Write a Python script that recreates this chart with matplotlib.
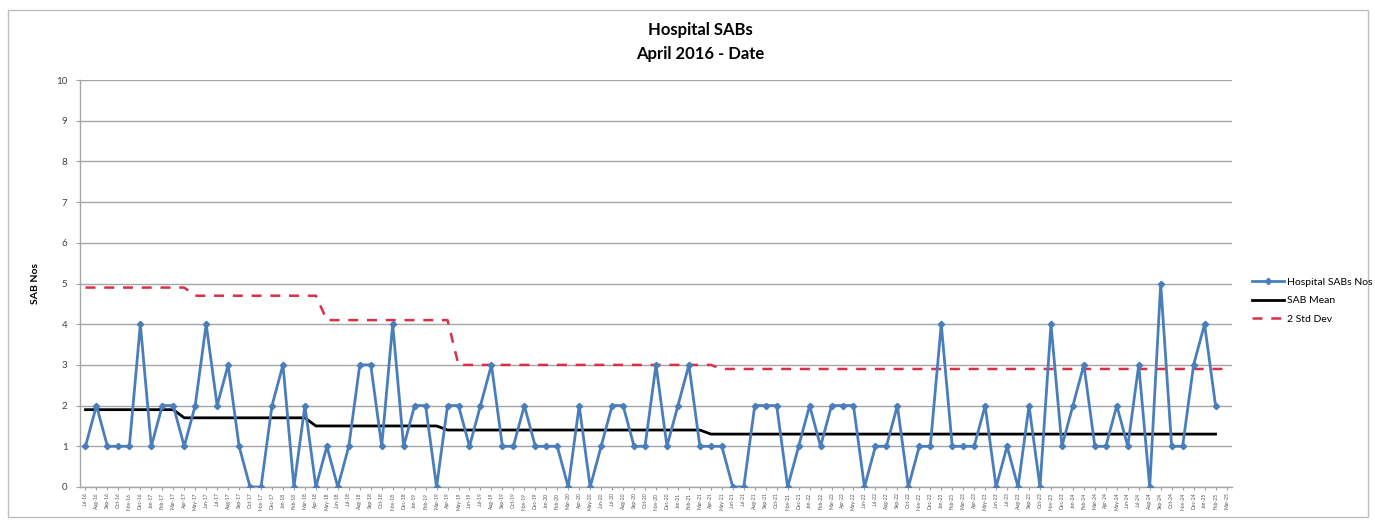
import matplotlib
matplotlib.use("Agg")
import matplotlib.pyplot as plt
import pandas as pd
from matplotlib.patches import Rectangle

plt.rcParams['font.family'] = ['Lato', 'DejaVu Sans']

# Monthly category labels, Jul-16 .. Mar-25
months = [d.strftime('%b-%y') for d in pd.date_range('2016-07-01', '2025-03-01', freq='MS')]

# Monthly SAB counts (Jul-16 .. Feb-25)
sab_counts = [
    1, 2, 1, 1, 1, 4, 1, 2, 2, 1, 2, 4, 2, 3, 1, 0, 0, 2, 3, 0, 2, 0, 1, 0, 1, 3, 3, 1, 4,
    1, 2, 2, 0, 2, 2, 1, 2, 3, 1, 1, 2, 1, 1, 1, 0, 2, 0, 1, 2, 2, 1, 1, 3, 1, 2, 3, 1, 1, 1,
    0, 0, 2, 2, 2, 0, 1, 2, 1, 2, 2, 2, 0, 1, 1, 2, 0, 1, 1, 4, 1, 1, 1, 2, 0, 1, 0, 2, 0,
    4, 1, 2, 3, 1, 1, 2, 1, 3, 0, 5, 1, 1, 3, 4, 2,
]

# Yearly mean level
sab_mean = [
    1.9, 1.9, 1.9, 1.9, 1.9, 1.9, 1.9, 1.9, 1.9,
    1.7, 1.7, 1.7, 1.7, 1.7, 1.7, 1.7, 1.7, 1.7, 1.7, 1.7, 1.7,
    1.5, 1.5, 1.5, 1.5, 1.5, 1.5, 1.5, 1.5, 1.5, 1.5, 1.5, 1.5,
    1.4, 1.4, 1.4, 1.4, 1.4, 1.4, 1.4, 1.4, 1.4, 1.4, 1.4, 1.4,
    1.4, 1.4, 1.4, 1.4, 1.4, 1.4, 1.4, 1.4, 1.4, 1.4, 1.4, 1.4,
    1.3, 1.3, 1.3, 1.3, 1.3, 1.3, 1.3, 1.3, 1.3, 1.3, 1.3, 1.3,
    1.3, 1.3, 1.3, 1.3, 1.3, 1.3, 1.3, 1.3, 1.3, 1.3, 1.3, 1.3,
    1.3, 1.3, 1.3, 1.3, 1.3, 1.3, 1.3, 1.3, 1.3, 1.3, 1.3, 1.3,
    1.3, 1.3, 1.3, 1.3, 1.3, 1.3, 1.3, 1.3, 1.3, 1.3, 1.3,
]

# Upper limit (mean + 2 standard deviations)
std_dev2 = [
    4.9, 4.9, 4.9, 4.9, 4.9, 4.9, 4.9, 4.9, 4.9, 4.9,
    4.7, 4.7, 4.7, 4.7, 4.7, 4.7, 4.7, 4.7, 4.7, 4.7, 4.7, 4.7,
    4.1, 4.1, 4.1, 4.1, 4.1, 4.1, 4.1, 4.1, 4.1, 4.1, 4.1, 4.1,
    3.0, 3.0, 3.0, 3.0, 3.0, 3.0, 3.0, 3.0, 3.0, 3.0, 3.0, 3.0,
    3.0, 3.0, 3.0, 3.0, 3.0, 3.0, 3.0, 3.0, 3.0, 3.0, 3.0, 3.0,
    2.9, 2.9, 2.9, 2.9, 2.9, 2.9, 2.9, 2.9, 2.9, 2.9, 2.9, 2.9,
    2.9, 2.9, 2.9, 2.9, 2.9, 2.9, 2.9, 2.9, 2.9, 2.9, 2.9, 2.9,
    2.9, 2.9, 2.9, 2.9, 2.9, 2.9, 2.9, 2.9, 2.9, 2.9, 2.9, 2.9,
    2.9, 2.9, 2.9, 2.9, 2.9, 2.9, 2.9, 2.9, 2.9, 2.9, 2.9,
]

y_ticks = list(range(0, 11))

W, H = 1375, 523
fig = plt.figure(figsize=(W / 100, H / 100), dpi=100)
fig.patch.set_facecolor('white')

# chart frame
fig.add_artist(Rectangle((8 / W, 6 / H), 1360 / W, 507 / H, transform=fig.transFigure,
                         fill=False, edgecolor='#BFBFBF', linewidth=1.0))

ax = fig.add_axes([80 / W, 1 - 487 / H, (1232 - 80) / W, (487 - 80) / H])

x_all = list(range(len(months)))
ax.plot(x_all[:len(sab_counts)], sab_counts, color='#4A7EBB', linewidth=2.0,
        marker='D', markersize=3.2, markerfacecolor='#4A7EBB', markeredgecolor='#4A7EBB',
        label='Hospital SABs Nos', zorder=4)
ax.plot(x_all[:len(sab_mean)], sab_mean, color='black', linewidth=2.0,
        label='SAB Mean', zorder=3)
ax.plot(x_all[:len(std_dev2)], std_dev2, color='#D9304A', linewidth=1.8,
        linestyle=(0, (4, 3.5)), label='2 Std Dev', zorder=3)

ax.set_xlim(-0.5, len(months) - 0.5)
ax.set_ylim(0, 10)
ax.set_yticks(y_ticks)
ax.set_yticklabels([str(v) for v in y_ticks], fontsize=7, color='#404040')
ax.set_xticks(x_all)
ax.set_xticklabels(months, rotation=90, fontsize=3.6, color='#505050')
ax.tick_params(axis='y', length=3, color='#A0A0A0', pad=6)
ax.tick_params(axis='x', length=2, color='#A0A0A0', pad=2)

ax.yaxis.grid(True, color='#A6A6A6', linewidth=1.0)
ax.set_axisbelow(True)
for side in ('top', 'right'):
    ax.spines[side].set_visible(False)
for side in ('left', 'bottom'):
    ax.spines[side].set_color('#A6A6A6')
    ax.spines[side].set_linewidth(1.0)

ax.set_ylabel('SAB Nos', fontsize=7.5, fontweight='bold', labelpad=12)

fig.text(700 / W, 1 - 30 / H, 'Hospital SABs', ha='center', va='center',
         fontsize=12, fontweight='bold')
fig.text(700 / W, 1 - 54 / H, 'April 2016 - Date', ha='center', va='center',
         fontsize=12, fontweight='bold')

leg = fig.legend(loc='upper left', bbox_to_anchor=(1243 / W, 1 - 268 / H),
                 frameon=False, fontsize=7.5, handlelength=3.0, handletextpad=0.3,
                 labelspacing=0.9)

fig.savefig('out.png', dpi=100, facecolor='white')
